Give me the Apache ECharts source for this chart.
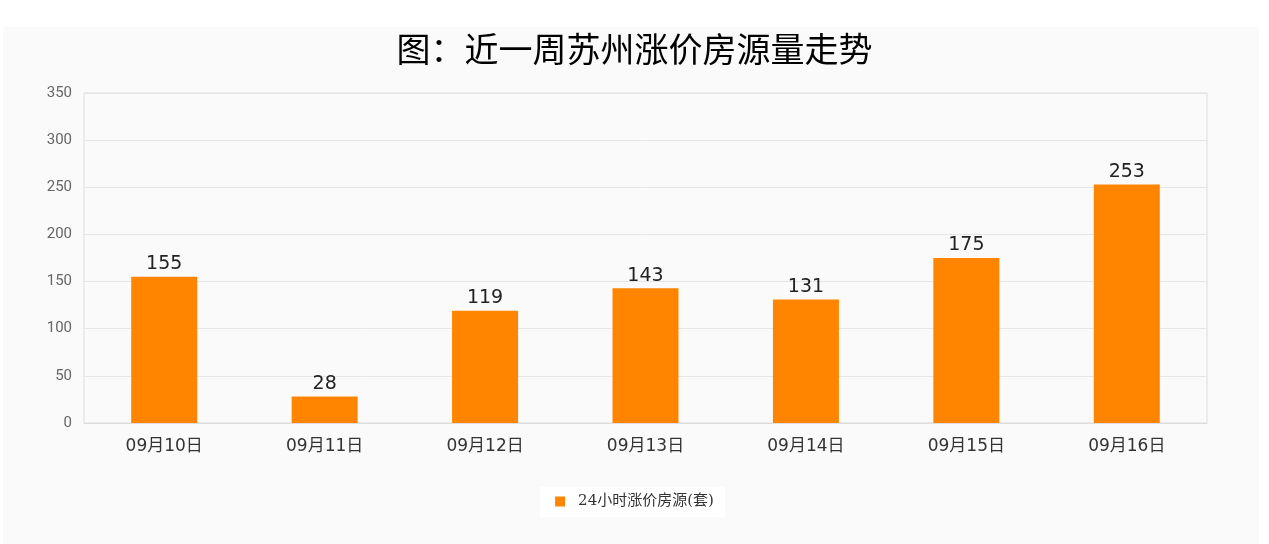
<!DOCTYPE html>
<html><head><meta charset="utf-8">
<script src="https://cdn.jsdelivr.net/npm/echarts@6/dist/echarts.min.js"></script>
<style>html,body{margin:0;padding:0;background:#fff}#c{width:1269px;height:544px}</style>
</head><body><div id="c"></div>
<script>
var categories = ['09月10日','09月11日','09月12日','09月13日','09月14日','09月15日','09月16日'];
var values = [155, 28, 119, 143, 131, 175, 253];
var seriesName = '24小时涨价房源(套)';
var titleText = '图：近一周苏州涨价房源量走势';

var chart = echarts.init(document.getElementById('c'));
chart.setOption({
  animation: false,
  backgroundColor: '#ffffff',
  graphic: [
    {type:'rect', z:-10, shape:{x:3,y:27,width:1256,height:517}, style:{fill:'#fafafa'}},
    {type:'rect', z:-5, shape:{x:540,y:487,width:185,height:30}, style:{fill:'#ffffff'}}
  ],
  title: {
    text: titleText, left: 'center', top: 27,
    textStyle: {fontFamily:'Noto Sans CJK SC', fontSize: 34, fontWeight: 'normal', color: '#000'}
  },
  legend: {
    data: [seriesName], bottom: 30, left: 'center',
    itemWidth: 10, itemHeight: 10, icon: 'rect',
    textStyle: {fontFamily:'DejaVu Serif, Noto Sans CJK SC', fontSize: 15, color: '#333', padding: [0,0,0,8]}
  },
  grid: {left: 84, right: 62, top: 93, bottom: 121, show: true, borderColor: '#dddddd', borderWidth: 1},
  xAxis: {
    type: 'category', data: categories,
    axisLine: {lineStyle:{color:'#dddddd'}}, axisTick: {show:false},
    axisLabel: {fontFamily:'DejaVu Sans, Noto Sans CJK SC', fontSize: 17, color: '#333', margin: 15}
  },
  yAxis: {
    type: 'value', min: 0, max: 350, interval: 50,
    axisLine: {show:false}, axisTick: {show:false},
    splitLine: {lineStyle:{color:'#e6e6e6'}},
    axisLabel: {fontFamily:'Roboto', fontSize: 15, color: '#666', margin: 12}
  },
  series: [{
    name: seriesName, type: 'bar', data: values, barWidth: 66,
    itemStyle: {color: '#ff8500'},
    label: {show: true, position: 'top', fontFamily:'DejaVu Sans', fontSize: 19, color: '#222', distance: 3}
  }]
});
</script></body></html>
